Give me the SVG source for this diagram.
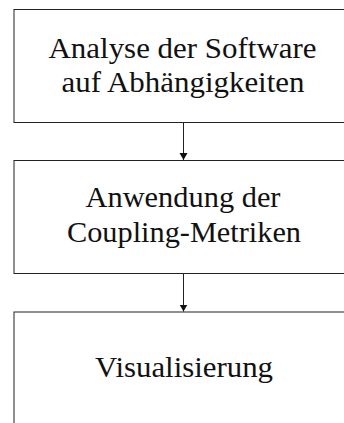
<svg xmlns="http://www.w3.org/2000/svg" width="344" height="423" viewBox="0 0 344 423">
<style>
.box{fill:#fff;stroke:#222;stroke-width:1}
.lbl{font-family:"Liberation Serif","DejaVu Serif",serif;font-size:29px;fill:#111;text-anchor:middle}
.edge{stroke:#222;stroke-width:1;fill:none}
</style>
<defs>
<marker id="arr" markerWidth="8" markerHeight="10" refX="7" refY="5" orient="auto" markerUnits="userSpaceOnUse" viewBox="0 0 8 10">
<path d="M0,1 L7,5 L0,9 Z" fill="#111"/>
</marker>
</defs>
<rect width="344" height="423" fill="#fff"/>
<g id="n1">
<rect class="box" x="14" y="9.5" width="340" height="113"/>
<text class="lbl" x="182.5" y="58" textLength="268" lengthAdjust="spacingAndGlyphs">Analyse der Software</text>
<text class="lbl" x="183" y="92" textLength="243" lengthAdjust="spacingAndGlyphs">auf Abhängigkeiten</text>
</g>
<g id="n2">
<rect class="box" x="14" y="160.5" width="340" height="113"/>
<text class="lbl" x="183" y="207" textLength="195" lengthAdjust="spacingAndGlyphs">Anwendung der</text>
<text class="lbl" x="184" y="241.5" textLength="234" lengthAdjust="spacingAndGlyphs">Coupling-Metriken</text>
</g>
<g id="n3">
<rect class="box" x="14" y="312" width="340" height="120"/>
<text class="lbl" x="184" y="376.5" textLength="178" lengthAdjust="spacingAndGlyphs">Visualisierung</text>
</g>
<g id="edges">
<line class="edge" x1="183.5" y1="123" x2="183.5" y2="160" marker-end="url(#arr)"/>
<line class="edge" x1="183.5" y1="274" x2="183.5" y2="311.5" marker-end="url(#arr)"/>
</g>
</svg>
